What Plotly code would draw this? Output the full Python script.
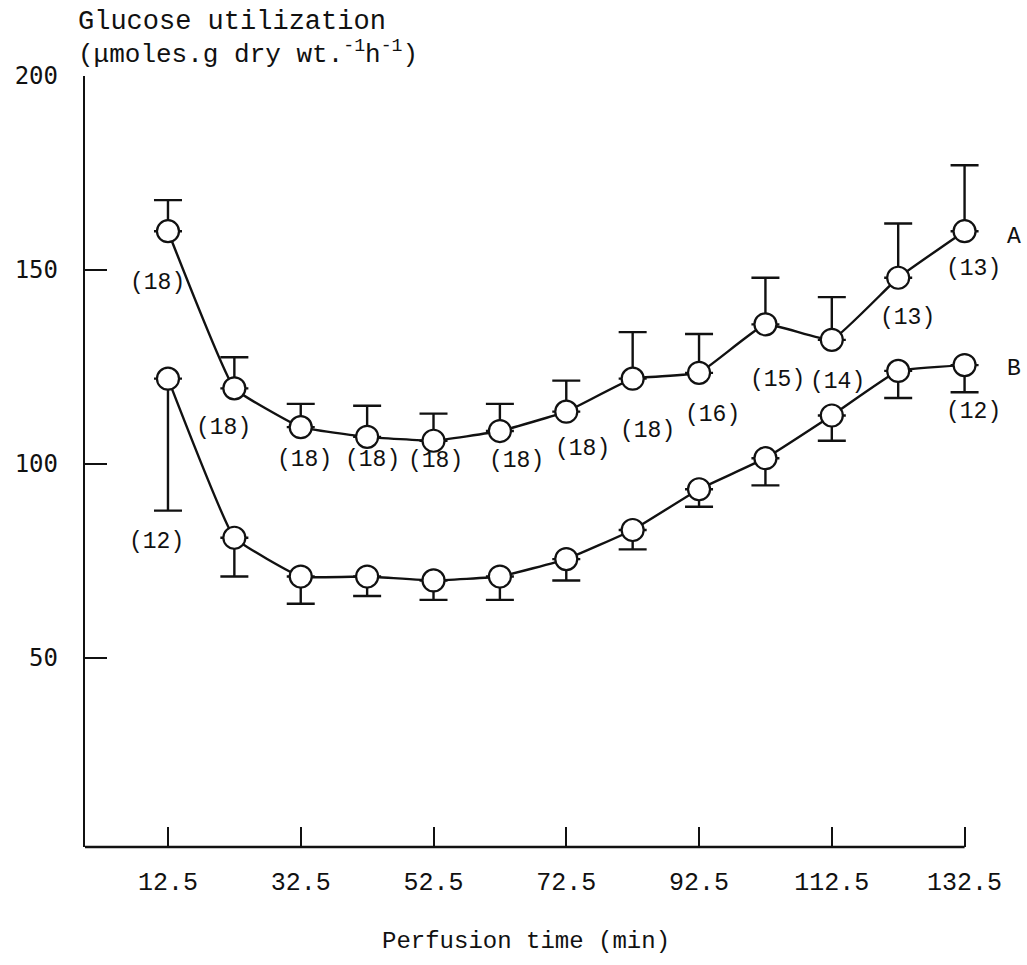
import plotly.graph_objects as go

# Perfusion time (min)
time = [12.5, 22.5, 32.5, 42.5, 52.5, 62.5, 72.5, 82.5, 92.5, 102.5, 112.5, 122.5, 132.5]
tick_vals = [12.5, 32.5, 52.5, 72.5, 92.5, 112.5, 132.5]
tick_text = ["12.5", "32.5", "52.5", "72.5", "92.5", "112.5", "132.5"]
y_ticks = [50, 100, 150, 200]

# Glucose utilization, curve A (mean, +SE) and number of hearts
glucose_a = [160, 119.5, 109.5, 107, 106, 108.5, 113.5, 122, 123.5, 136, 132, 148, 160]
se_a = [8, 8, 6, 8, 7, 7, 8, 12, 10, 12, 11, 14, 17]
n_a = [18, 18, 18, 18, 18, 18, 18, 18, 16, 15, 14, 13, 13]

# Glucose utilization, curve B (mean, -SE)
glucose_b = [122, 81, 71, 71, 70, 71, 75.5, 83, 93.5, 101.5, 112.5, 124, 125.5]
se_b = [34, 10, 7, 5, 5, 6, 5.5, 5, 4.5, 7, 6.5, 7, 7]
# n given only at first and last times of curve B
n_b_index = [0, 12]
n_b = [12, 12]

# pixel offsets (dx, dy downward) of the "(n)" labels from their points
offsets_a = [(-10, 52), (-11, 40), (4, 33), (5, 23), (2, 20), (17, 30), (16, 37),
             (15, 52), (13, 42), (12, 56), (6, 42), (9, 40), (9, 38)]
offsets_b = [(-11, 163), (9, 47)]

MONO = "Liberation Mono"
GOTHIC = "DejaVu Sans Mono"
INK = "#111111"

X_MIN, X_AXIS_END, X_MAX = 0.0, 132.5, 141.0
Y_MIN, Y_MAX = 1.3, 200

fig = go.Figure()

marker = dict(symbol="circle", size=22, color="white", line=dict(color=INK, width=2.2))
line = dict(color=INK, width=2.4, shape="spline", smoothing=0.3)

fig.add_trace(go.Scatter(
    x=time, y=glucose_a, mode="lines+markers", marker=marker, line=line,
    error_y=dict(type="data", symmetric=False, array=se_a, arrayminus=[0] * len(se_a),
                 width=14, thickness=2.4, color=INK),
    cliponaxis=False, showlegend=False, hoverinfo="x+y"))

fig.add_trace(go.Scatter(
    x=time, y=glucose_b, mode="lines+markers", marker=marker, line=line,
    error_y=dict(type="data", symmetric=False, array=[0] * len(se_b), arrayminus=se_b,
                 width=14, thickness=2.4, color=INK),
    cliponaxis=False, showlegend=False, hoverinfo="x+y"))

label_font = dict(family=MONO, size=23, color=INK)
annotations = []
for t, v, n, (dx, dy) in zip(time, glucose_a, n_a, offsets_a):
    annotations.append(dict(x=t, y=v, xref="x", yref="y", text=f"({n})", showarrow=False,
                            xshift=dx, yshift=-dy, font=label_font))
for i, n, (dx, dy) in zip(n_b_index, n_b, offsets_b):
    annotations.append(dict(x=time[i], y=glucose_b[i], xref="x", yref="y", text=f"({n})",
                            showarrow=False, xshift=dx, yshift=-dy, font=label_font))

# curve identifiers
annotations.append(dict(x=time[-1], y=glucose_a[-1], xref="x", yref="y", text="A",
                        showarrow=False, xshift=49, yshift=-6, font=label_font))
annotations.append(dict(x=time[-1], y=glucose_b[-1], xref="x", yref="y", text="B",
                        showarrow=False, xshift=49, yshift=-4, font=label_font))

# plot-area geometry in pixels, for placing the axis titles
L, T, W, H = 85, 76, 1027 - 85 - 6, 965 - 76 - 118


def px(xp):
    return (xp - L) / W


def py(yp):
    return (T + H - yp) / H


# y-axis title, two lines above the axis
annotations.append(dict(x=px(76), y=py(22), xref="paper", yref="paper",
                        xanchor="left", yanchor="middle", text="Glucose utilization",
                        showarrow=False, font=dict(family=MONO, size=27, color=INK)))
annotations.append(dict(x=px(76), y=py(53), xref="paper", yref="paper",
                        xanchor="left", yanchor="middle",
                        text="(\u03bcmoles.g dry wt.<sup>-1</sup>h<sup>-1</sup>)",
                        showarrow=False, font=dict(family=MONO, size=26, color=INK)))
# x-axis title
annotations.append(dict(x=px(526), y=py(941), xref="paper", yref="paper",
                        xanchor="center", yanchor="middle", text="Perfusion time (min)",
                        showarrow=False, font=dict(family=MONO, size=24, color=INK)))

# x-axis baseline stops at the last time point
shapes = [dict(type="line", xref="x", yref="paper", x0=X_MIN, x1=X_AXIS_END, y0=0, y1=0,
               line=dict(color=INK, width=2.4))]

fig.update_layout(
    width=1027, height=965,
    margin=dict(l=L, r=6, t=T, b=118),
    paper_bgcolor="white", plot_bgcolor="white",
    annotations=annotations, shapes=shapes,
    xaxis=dict(range=[X_MIN, X_MAX], showgrid=False, zeroline=False, showline=False,
               ticks="inside", ticklen=20, tickwidth=2.4, tickcolor=INK,
               tickvals=tick_vals, ticktext=tick_text, ticklabelstandoff=17,
               tickfont=dict(family=MONO, size=25, color=INK)),
    yaxis=dict(range=[Y_MIN, Y_MAX], showgrid=False, zeroline=False,
               showline=True, linewidth=2.4, linecolor=INK,
               ticks="inside", ticklen=22, tickwidth=2.4, tickcolor=INK,
               tickvals=y_ticks, ticklabelstandoff=20,
               tickfont=dict(family=GOTHIC, size=24, color=INK)),
)

fig.write_html("out.html")
